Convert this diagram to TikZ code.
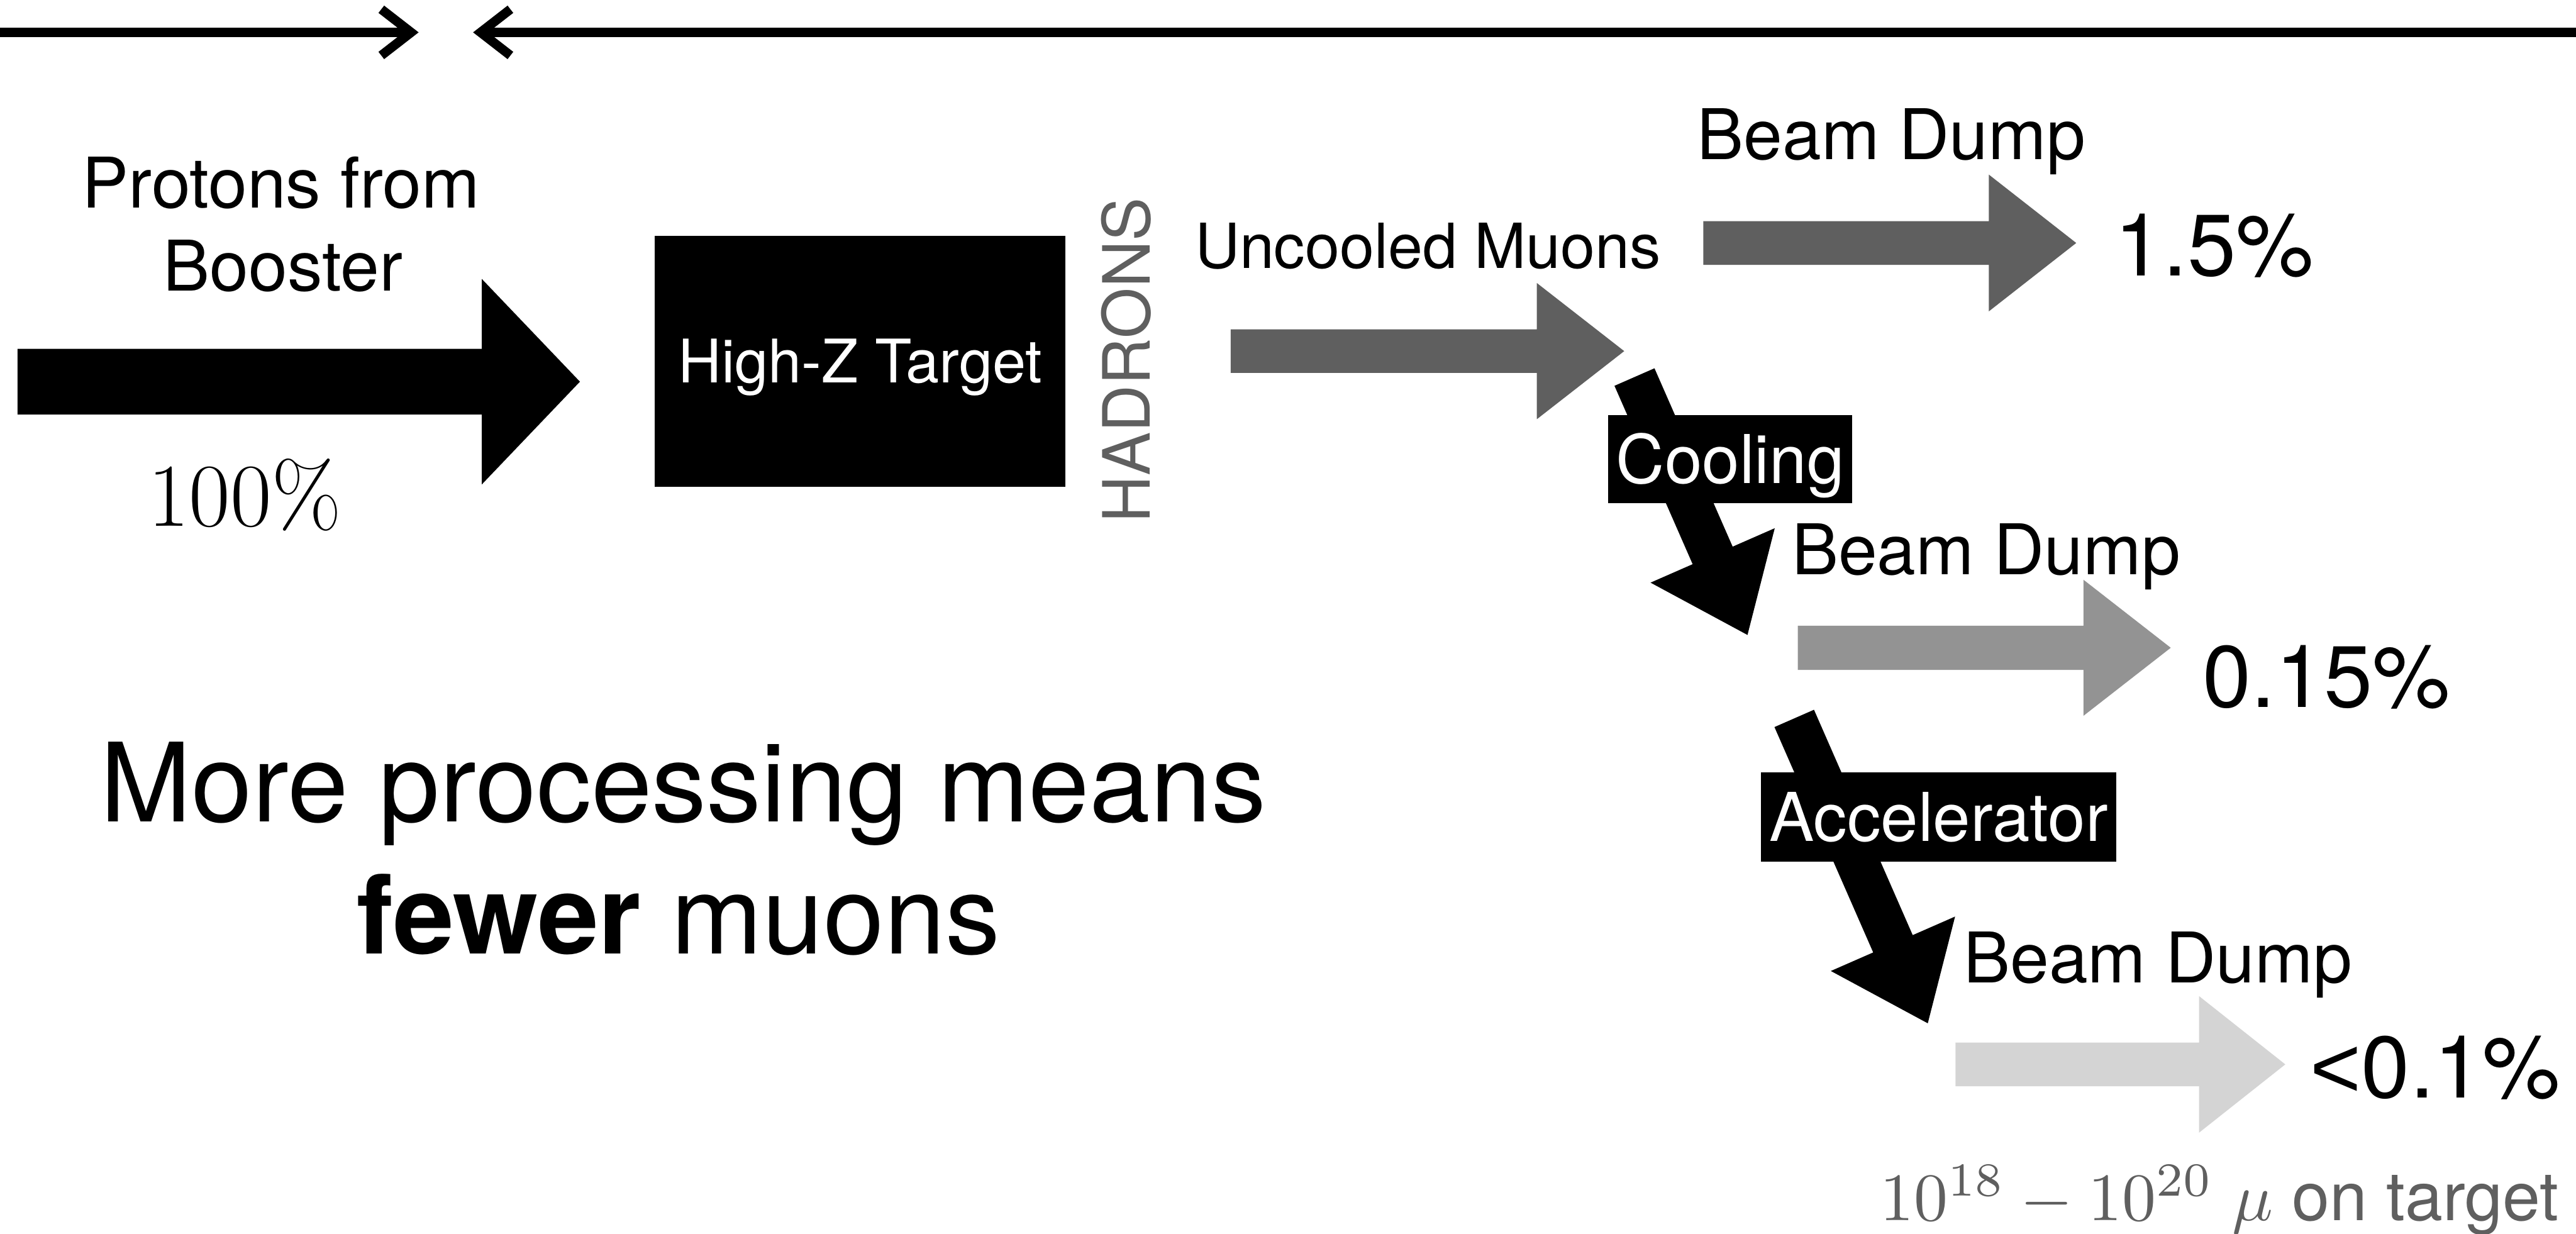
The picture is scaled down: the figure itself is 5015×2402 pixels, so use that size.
\documentclass[tikz,border=0pt]{standalone}
\usepackage{graphicx}
\usepackage{fontspec}
\setsansfont{TeX Gyre Heros}
\newfontfamily\libsans{Liberation Sans}
\usetikzlibrary{calc,arrows.meta}
\definecolor{dgrey}{HTML}{5F5F5F}
\definecolor{mgrey}{HTML}{939393}
\definecolor{lgrey}{HTML}{D4D4D4}
% block arrow: #1 style, #2 tail, #3 tip, #4 shaft half width, #5 head half width, #6 head length
\newcommand\bkarrow[6]{%
  \coordinate (ba-c) at ($(#3)!#6!(#2)$);
  \fill[#1] ($(#2)!#4!90:(#3)$) -- ($(ba-c)!#4!90:(#3)$) -- ($(ba-c)!#5!90:(#3)$) -- (#3)
    -- ($(ba-c)!#5!-90:(#3)$) -- ($(ba-c)!#4!-90:(#3)$) -- ($(#2)!#4!-90:(#3)$) -- cycle;}
\begin{document}
\begin{tikzpicture}[x=1pt,y=-1pt,
  sf/.style={font=\sffamily\fontsize{#1}{#1}\selectfont, inner sep=0pt, anchor=base},
  blackbox/.style={fill=black, text=white, inner sep=0pt, text depth=0pt},
  topline/.style={line width=18pt}]
\useasboundingbox (0,0) rectangle (5015,2402);

% top timeline
\coordinate (tlA) at (0,63);   \coordinate (tlB) at (815,63);
\coordinate (trA) at (5015,63); \coordinate (trB) at (921,63);
\draw[topline, -{Straight Barb[length=58pt,width=90pt]}] (tlA) -- (tlB);
\draw[topline, -{Straight Barb[length=58pt,width=90pt]}] (trA) -- (trB);

% protons
\node[sf=136] (prot1) at (547,405) {Protons from};
\node[sf=136] (prot2) at (551,566) {Booster};
\coordinate (a0s) at (34,743); \coordinate (a0e) at (1129,743);
\bkarrow{black}{a0s}{a0e}{64pt}{200pt}{191pt}
\node[font=\rmfamily\fontsize{175}{175}\selectfont, inner sep=0pt, anchor=base] (pct100) at (476,1024) {100\%};

% target
\node[blackbox, minimum width=799pt, minimum height=489pt, text height=84pt,
      font=\sffamily\fontsize{117}{117}\selectfont] (target) at (1674.5,703.5) {High-Z Target};
\node[font=\sffamily\fontsize{127}{127}\selectfont, text=dgrey, inner sep=0pt, rotate=90] (hadrons) at (2192,701) {HADRONS};

% uncooled muons
\node[sf=121] (unc) at (2780,522) {Uncooled Muons};
\coordinate (a1s) at (2396,683.5); \coordinate (a1e) at (3162,683.5);
\bkarrow{dgrey}{a1s}{a1e}{42.5pt}{132.5pt}{170pt}

% beam dump 1
\node[sf=136] (bd1) at (3682,310) {Beam Dump};
\coordinate (b1s) at (3316,473); \coordinate (b1e) at (4042,473);
\bkarrow{dgrey}{b1s}{b1e}{42.5pt}{133pt}{170pt}
\node[sf=170] (p1) at (4310.5,537) {1.5\%};

% cooling
\coordinate (c1s) at (3182,734); \coordinate (c1e) at (3402,1236);
\bkarrow{black}{c1s}{c1e}{42.5pt}{132pt}{169pt}
\node[blackbox, minimum width=475pt, minimum height=172pt, text height=94pt,
      font=\sffamily\fontsize{131}{131}\selectfont] (cooling) at (3368.5,894) {Cooling};

% beam dump 2
\node[sf=136] (bd2) at (3866.5,1119) {Beam Dump};
\coordinate (b2s) at (3500,1261); \coordinate (b2e) at (4226,1261);
\bkarrow{mgrey}{b2s}{b2e}{43pt}{132.5pt}{170pt}
\node[sf=170] (p2) at (4529,1377) {0.15\%};

% accelerator
\coordinate (c2s) at (3493,1398.5); \coordinate (c2e) at (3753,1992);
\bkarrow{black}{c2s}{c2e}{42pt}{132pt}{169pt}
\node[blackbox, minimum width=692pt, minimum height=173pt, text height=94pt,
      font=\sffamily\fontsize{131}{131}\selectfont] (accel) at (3774,1590.5) {Accelerator};

% beam dump 3
\node[sf=136] (bd3) at (4201,1913) {Beam Dump};
\coordinate (b3s) at (3807,2072); \coordinate (b3e) at (4449,2072);
\bkarrow{lgrey}{b3s}{b3e}{42.5pt}{133pt}{168pt}
\node[sf=170] (p3) at (4741.5,2137) {{\libsans <}0.1\%};

% bottom note
\node[sf=132, anchor=base west, text=dgrey] (ontarget) at (3660,2376)
  {\scalebox{13.2}{\fontsize{10}{10}\selectfont$10^{18}-10^{20}$ $\mu$} on target};

% statement
\node[sf=213] (more1) at (1330,1599) {More processing means};
\node[sf=213] (more2) at (1321,1857) {\textbf{fewer} muons};
\end{tikzpicture}
\end{document}
